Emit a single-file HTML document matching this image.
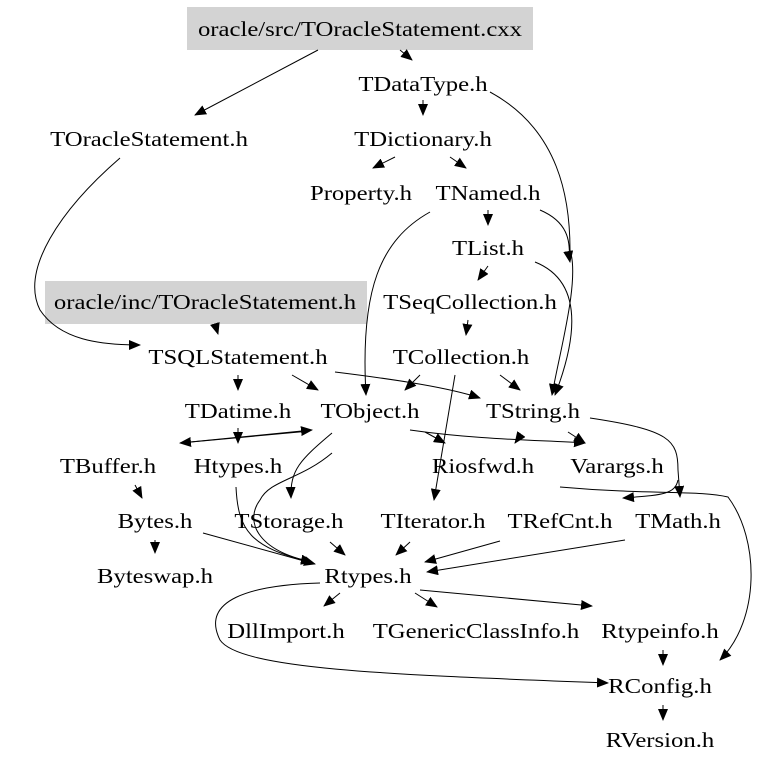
<!DOCTYPE html>
<html><head><meta charset="utf-8"><style>
html,body{margin:0;padding:0;background:#fff;}
svg{display:block;}
text{font-family:"Liberation Serif",serif;font-size:21.5px;fill:#000;text-anchor:middle;}
path,line{stroke:#000;stroke-width:1;fill:none;}
</style></head><body>
<svg width="779" height="766" viewBox="0 0 779 766" xmlns="http://www.w3.org/2000/svg">
<defs><marker id="a" markerWidth="12" markerHeight="10" refX="11" refY="5" orient="auto" markerUnits="userSpaceOnUse"><path d="M0,0 L12,5 L0,10 Z" style="fill:#000;stroke:none"/></marker></defs>
<rect x="187" y="7" width="346" height="43" fill="#d3d3d3"/>
<rect x="45" y="281" width="322" height="43" fill="#d3d3d3"/>
<g transform="scale(1.15,1)">
<text x="313.04" y="36">oracle/src/TOracleStatement.cxx</text>
<text x="367.83" y="91">TDataType.h</text>
<text x="129.57" y="146">TOracleStatement.h</text>
<text x="367.83" y="146">TDictionary.h</text>
<text x="313.91" y="200">Property.h</text>
<text x="424.35" y="200">TNamed.h</text>
<text x="424.35" y="255">TList.h</text>
<text x="178.26" y="309">oracle/inc/TOracleStatement.h</text>
<text x="408.70" y="309">TSeqCollection.h</text>
<text x="206.96" y="364">TSQLStatement.h</text>
<text x="400.87" y="364">TCollection.h</text>
<text x="206.96" y="418">TDatime.h</text>
<text x="321.74" y="418">TObject.h</text>
<text x="463.48" y="418">TString.h</text>
<text x="93.91" y="473">TBuffer.h</text>
<text x="206.96" y="473">Htypes.h</text>
<text x="420" y="473">Riosfwd.h</text>
<text x="536.52" y="473">Varargs.h</text>
<text x="134.78" y="528">Bytes.h</text>
<text x="251.30" y="528">TStorage.h</text>
<text x="376.52" y="528">TIterator.h</text>
<text x="486.96" y="528">TRefCnt.h</text>
<text x="589.57" y="528">TMath.h</text>
<text x="134.78" y="583">Byteswap.h</text>
<text x="320" y="583">Rtypes.h</text>
<text x="248.70" y="638">DllImport.h</text>
<text x="413.91" y="638">TGenericClassInfo.h</text>
<text x="573.91" y="638">Rtypeinfo.h</text>
<text x="573.91" y="693">RConfig.h</text>
<text x="573.91" y="747">RVersion.h</text>
</g>
<g marker-end="url(#a)">
<path d="M318,50 L195,115"/>
<path d="M400,50 L412,60"/>
<path d="M423,100 L423,115"/>
<path d="M490,92 C560,130 570,200 570,250 C580,280 560,350 552,395"/>
<path d="M120,158 C60,210 20,270 40,310 C60,340 100,345 140,345"/>
<path d="M215,324 L218,334"/>
<path d="M395,157 L373,168"/>
<path d="M450,157 L466,168"/>
<path d="M488,210 L488,225"/>
<path d="M430,212 C380,240 360,290 366,395"/>
<path d="M540,210 C575,225 568,250 570,262"/>
<path d="M488,266 L478,280"/>
<path d="M535,262 C580,280 580,330 555,395"/>
<path d="M468,320 L466,335"/>
<path d="M238,375 L238,390"/>
<path d="M292,375 L318,390"/>
<path d="M335,372 C400,380 450,388 480,398"/>
<path d="M420,375 L405,390"/>
<path d="M455,375 L434,500"/>
<path d="M500,375 L520,390"/>
<path d="M310,431 L180,443"/>
<path d="M180,443 L312,430"/>
<path d="M238,428 L238,443"/>
<path d="M332,433 C300,460 290,470 291,498"/>
<path d="M425,432 L445,443"/>
<path d="M410,430 C480,440 540,440 585,443"/>
<path d="M520,436 L515,443"/>
<path d="M568,432 L585,443"/>
<path d="M590,418 C670,430 678,440 678,470 L680,497"/>
<path d="M678,480 C675,495 660,495 623,498"/>
<path d="M560,487 C650,495 700,490 728,497 C760,540 760,620 720,660"/>
<path d="M236,487 C238,530 250,548 312,562"/>
<path d="M332,453 C300,480 270,480 260,500 C245,520 255,550 312,562"/>
<path d="M203,533 L315,564"/>
<path d="M135,485 L142,498"/>
<path d="M155,540 L155,553"/>
<path d="M330,542 L345,555"/>
<path d="M410,542 L396,555"/>
<path d="M500,541 L425,562"/>
<path d="M625,540 L427,572"/>
<path d="M340,593 L324,606"/>
<path d="M415,593 L437,607"/>
<path d="M420,590 L592,606"/>
<path d="M320,583 C250,585 200,600 220,640 C240,670 400,675 608,683"/>
<path d="M663,650 L663,665"/>
<path d="M663,705 L663,720"/>
</g>
</svg>
</body></html>
